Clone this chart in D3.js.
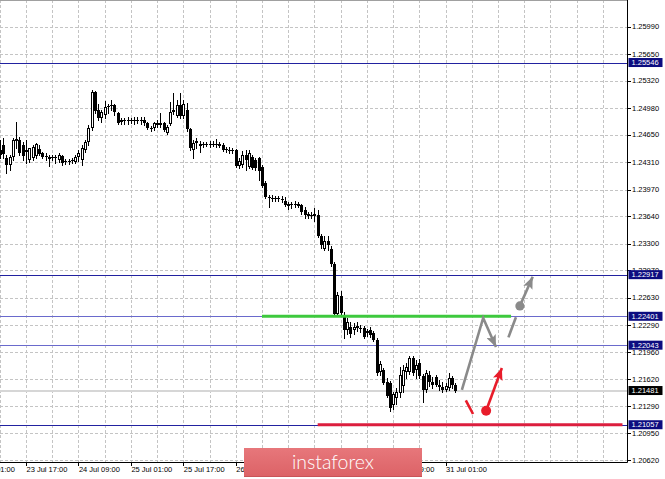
<!DOCTYPE html>
<html><head><meta charset="utf-8">
<script src="https://cdn.jsdelivr.net/npm/d3@7"></script>
<style>body{margin:0;background:#fff;overflow:hidden}svg{display:block}</style>
</head><body>
<svg id="c" width="665" height="479"></svg>
<script>
// EURUSD-like H1 candles; bar index 0 = 23 Jul 17:00
const firstBar = -8;
const opens = [1.2446,1.2452,1.2436,1.2428,1.2438,1.2457,1.2459,1.2452,1.2444,1.2434,1.2436,1.2439,1.2448,1.2443,1.2439,1.2438,1.2438,1.2438,1.2434,1.2439,1.2433,1.2431,1.2433,1.2431,1.2438,1.2434,1.2446,1.2456,1.2474,1.2518,1.2496,1.2486,1.2490,1.2500,1.2501,1.2502,1.2492,1.2481,1.2483,1.2482,1.2483,1.2482,1.2483,1.2482,1.2483,1.2480,1.2474,1.2474,1.2480,1.2477,1.2480,1.2467,1.2478,1.2493,1.2488,1.2502,1.2488,1.2496,1.2472,1.2446,1.2455,1.2454,1.2452,1.2454,1.2452,1.2454,1.2452,1.2454,1.2452,1.2448,1.2446,1.2445,1.2446,1.2426,1.2428,1.2440,1.2425,1.2438,1.2434,1.2436,1.2425,1.2405,1.2388,1.2387,1.2385,1.2387,1.2385,1.2383,1.2377,1.2379,1.2378,1.2379,1.2378,1.2372,1.2367,1.2366,1.2364,1.2366,1.2340,1.2324,1.2333,1.2324,1.2305,1.2243,1.2265,1.2242,1.2223,1.2227,1.2223,1.2228,1.2226,1.2226,1.2219,1.2223,1.2219,1.2211,1.2171,1.2173,1.2159,1.2157,1.2130,1.2139,1.2145,1.2154,1.2171,1.2171,1.2188,1.2173,1.2182,1.2166,1.2149,1.2167,1.2159,1.2165,1.2155,1.2152,1.2149,1.2151,1.2164,1.2155];
const highs = [1.2459,1.2461,1.2440,1.2440,1.2461,1.2481,1.2462,1.2456,1.2459,1.2449,1.2452,1.2455,1.2452,1.2444,1.2443,1.2440,1.2440,1.2440,1.2443,1.2440,1.2435,1.2435,1.2436,1.2440,1.2446,1.2452,1.2459,1.2477,1.2521,1.2519,1.2503,1.2496,1.2507,1.2503,1.2508,1.2503,1.2493,1.2486,1.2486,1.2487,1.2486,1.2487,1.2487,1.2487,1.2487,1.2481,1.2476,1.2481,1.2483,1.2492,1.2481,1.2477,1.2506,1.2517,1.2508,1.2517,1.2508,1.2505,1.2474,1.2459,1.2461,1.2457,1.2456,1.2456,1.2457,1.2457,1.2460,1.2456,1.2455,1.2450,1.2450,1.2449,1.2448,1.2436,1.2445,1.2446,1.2446,1.2440,1.2436,1.2438,1.2428,1.2408,1.2390,1.2390,1.2389,1.2389,1.2389,1.2388,1.2382,1.2382,1.2383,1.2382,1.2379,1.2376,1.2369,1.2369,1.2374,1.2372,1.2342,1.2339,1.2339,1.2327,1.2307,1.2270,1.2271,1.2245,1.2238,1.2233,1.2232,1.2233,1.2229,1.2228,1.2224,1.2227,1.2222,1.2213,1.2185,1.2176,1.2164,1.2160,1.2146,1.2151,1.2177,1.2180,1.2182,1.2191,1.2191,1.2186,1.2187,1.2168,1.2173,1.2172,1.2165,1.2167,1.2161,1.2159,1.2157,1.2170,1.2166,1.2157];
const lows = [1.2436,1.2436,1.2418,1.2421,1.2434,1.2449,1.2440,1.2434,1.2430,1.2431,1.2434,1.2436,1.2440,1.2436,1.2434,1.2426,1.2434,1.2430,1.2431,1.2428,1.2429,1.2429,1.2430,1.2430,1.2433,1.2428,1.2444,1.2452,1.2471,1.2492,1.2483,1.2481,1.2486,1.2492,1.2496,1.2490,1.2478,1.2478,1.2478,1.2478,1.2480,1.2478,1.2480,1.2478,1.2477,1.2472,1.2470,1.2471,1.2475,1.2475,1.2470,1.2466,1.2477,1.2491,1.2487,1.2486,1.2486,1.2470,1.2446,1.2436,1.2449,1.2444,1.2450,1.2451,1.2450,1.2451,1.2450,1.2450,1.2445,1.2444,1.2443,1.2443,1.2425,1.2424,1.2425,1.2421,1.2424,1.2423,1.2421,1.2409,1.2400,1.2387,1.2376,1.2383,1.2383,1.2383,1.2382,1.2377,1.2373,1.2374,1.2376,1.2376,1.2367,1.2362,1.2362,1.2362,1.2358,1.2338,1.2325,1.2322,1.2322,1.2302,1.2240,1.2240,1.2240,1.2213,1.2218,1.2214,1.2218,1.2222,1.2221,1.2213,1.2216,1.2214,1.2209,1.2167,1.2167,1.2156,1.2140,1.2123,1.2125,1.2131,1.2140,1.2146,1.2164,1.2168,1.2167,1.2164,1.2164,1.2134,1.2146,1.2154,1.2151,1.2154,1.2149,1.2146,1.2147,1.2149,1.2151,1.2146];
const closes = [1.2440,1.2441,1.2428,1.2438,1.2459,1.2460,1.2443,1.2439,1.2446,1.2449,1.2450,1.2454,1.2441,1.2438,1.2438,1.2435,1.2437,1.2436,1.2440,1.2430,1.2431,1.2433,1.2434,1.2438,1.2443,1.2449,1.2456,1.2474,1.2518,1.2495,1.2486,1.2493,1.2500,1.2501,1.2502,1.2493,1.2480,1.2483,1.2482,1.2483,1.2482,1.2483,1.2482,1.2483,1.2480,1.2474,1.2472,1.2480,1.2477,1.2480,1.2471,1.2475,1.2493,1.2496,1.2502,1.2488,1.2503,1.2472,1.2449,1.2455,1.2457,1.2451,1.2454,1.2452,1.2454,1.2452,1.2454,1.2451,1.2446,1.2446,1.2445,1.2446,1.2426,1.2433,1.2440,1.2434,1.2443,1.2424,1.2424,1.2420,1.2402,1.2388,1.2387,1.2385,1.2387,1.2385,1.2384,1.2378,1.2379,1.2378,1.2379,1.2377,1.2369,1.2366,1.2364,1.2364,1.2367,1.2340,1.2328,1.2333,1.2328,1.2305,1.2243,1.2266,1.2244,1.2223,1.2233,1.2218,1.2227,1.2226,1.2224,1.2214,1.2222,1.2217,1.2211,1.2170,1.2181,1.2157,1.2141,1.2126,1.2144,1.2146,1.2167,1.2173,1.2177,1.2188,1.2170,1.2180,1.2166,1.2149,1.2170,1.2159,1.2155,1.2155,1.2152,1.2149,1.2154,1.2164,1.2155,1.2148];

const priceTicks = [1.20620,1.20950,1.21290,1.21620,1.21960,1.22290,1.22630,1.22970,1.23300,1.23640,1.23970,1.24310,1.24650,1.24980,1.25320,1.25650,1.25990];
const timeLabels = ["23 Jul 01:00","23 Jul 17:00","24 Jul 09:00","25 Jul 01:00","25 Jul 17:00","26 Jul 09:00","29 Jul 01:00","29 Jul 17:00","30 Jul 09:00","31 Jul 01:00"];
const timeLabelBars = [-16,0,16,32,48,64,80,96,112,128];
const levels = [1.25546,1.22917,1.22401,1.22043,1.21057];
const levelTone = ["dark","dark","light","light","dark"];
const lastPrice = 1.21481;
const resistance = [[72,1.22401],[148,1.22401]];
const support = [[89,1.21057],[182,1.21057]];
const grayPath = [[133,1.2149],[139.5,1.2238],[143.4,1.2202]];
const grayDash = [[147.2,1.2214],[149.5,1.2239]];
const grayDot = [150.7,1.2253];
const grayTip = [154.6,1.2289];
const redDash = [[134.2,1.2136],[136.4,1.2119]];
const redDot = [140.4,1.2123];
const redTip = [145.2,1.2176];

const W = 665, H = 479, right = 627, bottom = 462;
const svg = d3.select("#c");
const x = d3.scaleLinear().domain([0,128]).range([26.0,445.5]);
const y = d3.scaleLinear().domain([1.20620,1.25990]).range([460,26.7]);
const font = "'Liberation Sans', Arial, sans-serif";

svg.append("rect").attr("width",W).attr("height",H).attr("fill","#fff");

const defs = svg.append("defs");
function marker(id, color){
  defs.append("marker").attr("id",id).attr("markerUnits","userSpaceOnUse")
    .attr("markerWidth",13).attr("markerHeight",10).attr("refX",12).attr("refY",5).attr("orient","auto")
    .append("path").attr("d","M0,0 L12,5 L0,10 L2.5,5 z").attr("fill",color);
}
marker("mg","#8a8a8a"); marker("mr","#e81c2a");
const lg = defs.append("linearGradient").attr("id","lg").attr("x1",0).attr("y1",0).attr("x2",0).attr("y2",1);
lg.append("stop").attr("offset","0%").attr("stop-color","#e7777b");
lg.append("stop").attr("offset","100%").attr("stop-color","#dc6266");

// grid
const gridBars = d3.range(-8, 177, 8);
svg.append("g").selectAll("line").data(gridBars).join("line")
  .attr("x1",d=>Math.round(x(d))+0.5).attr("x2",d=>Math.round(x(d))+0.5)
  .attr("y1",0).attr("y2",bottom)
  .attr("stroke","#c4c4c4").attr("stroke-dasharray","3,2");
svg.append("g").selectAll("line").data(priceTicks).join("line")
  .attr("x1",0).attr("x2",right)
  .attr("y1",d=>Math.round(y(d))+0.5).attr("y2",d=>Math.round(y(d))+0.5)
  .attr("stroke","#c4c4c4").attr("stroke-dasharray","3,2");

// last price line
svg.append("line").attr("x1",0).attr("x2",right).attr("y1",Math.round(y(lastPrice))).attr("y2",Math.round(y(lastPrice)))
  .attr("stroke","#d6d6d6").attr("stroke-width",2);

// level lines
svg.append("g").selectAll("line").data(levels).join("line")
  .attr("x1",0).attr("x2",right)
  .attr("y1",d=>Math.round(y(d))+0.5).attr("y2",d=>Math.round(y(d))+0.5)
  .attr("stroke",(d,i)=>levelTone[i]==="dark"?"#2222a0":"#6a6acc").attr("stroke-width",1);

// candles
const bars = opens.map((o,k)=>({i:firstBar+k,o,h:highs[k],l:lows[k],c:closes[k]}));
const cg = svg.append("g");
bars.forEach(b=>{
  const cx = Math.round(x(b.i));
  cg.append("line").attr("x1",cx+0.5).attr("x2",cx+0.5)
    .attr("y1",Math.round(y(b.h))).attr("y2",Math.round(y(b.l))+1)
    .attr("stroke","#000").attr("stroke-width",1);
  const top = Math.round(y(Math.max(b.o,b.c))), bot = Math.round(y(Math.min(b.o,b.c)));
  if (b.c >= b.o) {
    cg.append("rect").attr("x",cx-0.5).attr("y",top+0.5).attr("width",2)
      .attr("height",Math.max(0,bot-top-1)+0.001).attr("fill","#fff").attr("stroke","#000").attr("stroke-width",1);
  } else {
    cg.append("rect").attr("x",cx-1).attr("y",top).attr("width",3)
      .attr("height",Math.max(1,bot-top)).attr("fill","#000");
  }
});

// resistance / support
const ln = d3.line().x(d=>x(d[0])).y(d=>y(d[1]));
svg.append("path").attr("d",ln(resistance)).attr("stroke","#3ec93e").attr("stroke-width",3).attr("fill","none");
svg.append("path").attr("d",ln(support)).attr("stroke","#dc1e3e").attr("stroke-width",3).attr("fill","none");

// forecast arrows
svg.append("path").attr("d",ln(grayPath)).attr("stroke","#8a8a8a").attr("stroke-width",2.6)
  .attr("fill","none").attr("stroke-linejoin","miter").attr("marker-end","url(#mg)");
svg.append("path").attr("d",ln(grayDash)).attr("stroke","#8a8a8a").attr("stroke-width",2.6).attr("fill","none");
svg.append("path").attr("d",ln([grayDot,grayTip])).attr("stroke","#8a8a8a").attr("stroke-width",2.6)
  .attr("fill","none").attr("marker-end","url(#mg)");
svg.append("circle").attr("cx",x(grayDot[0])).attr("cy",y(grayDot[1])).attr("r",4.6).attr("fill","#8a8a8a");
svg.append("path").attr("d",ln(redDash)).attr("stroke","#e81c2a").attr("stroke-width",2.6).attr("fill","none");
svg.append("path").attr("d",ln([redDot,redTip])).attr("stroke","#e81c2a").attr("stroke-width",2.6)
  .attr("fill","none").attr("marker-end","url(#mr)");
svg.append("circle").attr("cx",x(redDot[0])).attr("cy",y(redDot[1])).attr("r",5).attr("fill","#e81c2a");

// axes frame
svg.append("line").attr("x1",0).attr("x2",right+0.5).attr("y1",0.5).attr("y2",0.5).attr("stroke","#a0a0a0");
svg.append("line").attr("x1",right+0.5).attr("x2",right+0.5).attr("y1",0).attr("y2",bottom+0.5).attr("stroke","#000");
svg.append("line").attr("x1",0).attr("x2",right+0.5).attr("y1",bottom+0.5).attr("y2",bottom+0.5).attr("stroke","#000");

// price axis
const pa = svg.append("g");
pa.selectAll("line").data(priceTicks).join("line")
  .attr("x1",right).attr("x2",right+4).attr("y1",d=>Math.round(y(d))+0.5).attr("y2",d=>Math.round(y(d))+0.5).attr("stroke","#000");
pa.selectAll("text").data(priceTicks).join("text")
  .attr("x",right+5).attr("y",d=>y(d)).attr("dy","0.35em")
  .attr("font-family",font).attr("font-size",7.5).attr("fill","#000")
  .text(d=>d3.format(".5f")(d));

// time axis
const ta = svg.append("g");
ta.selectAll("line").data(timeLabelBars).join("line")
  .attr("x1",d=>Math.round(x(d))+0.5).attr("x2",d=>Math.round(x(d))+0.5)
  .attr("y1",bottom).attr("y2",bottom+4).attr("stroke","#000");
ta.selectAll("text").data(timeLabels).join("text")
  .attr("x",(d,i)=>x(timeLabelBars[i])+0.5).attr("y",472)
  .attr("font-family",font).attr("font-size",7.5).attr("fill","#000")
  .text(d=>d);

// level tags
const tags = levels.map((v,i)=>({v,bg:"#0c0c80"})).concat([{v:lastPrice,bg:"#000"}]);
const tg = svg.append("g");
tags.forEach(t=>{
  tg.append("rect").attr("x",right+1.5).attr("y",y(t.v)-4.5).attr("width",34).attr("height",9).attr("fill",t.bg);
  tg.append("text").attr("x",right+4.5).attr("y",y(t.v)).attr("dy","0.35em")
    .attr("font-family",font).attr("font-size",7.5).attr("fill","#fff").text(d3.format(".5f")(t.v));
});

// watermark logo
svg.append("rect").attr("x",244).attr("y",448).attr("width",178).attr("height",29).attr("fill","url(#lg)");
svg.append("line").attr("x1",244).attr("x2",422).attr("y1",476.5).attr("y2",476.5).attr("stroke","#c85458");
svg.append("text").attr("x",333).attr("y",469).attr("text-anchor","middle")
  .attr("font-family","Lato, 'Open Sans', sans-serif").attr("font-weight",300).attr("font-size",19.5)
  .attr("fill","#fff").text("instaforex");
</script>
</body></html>
